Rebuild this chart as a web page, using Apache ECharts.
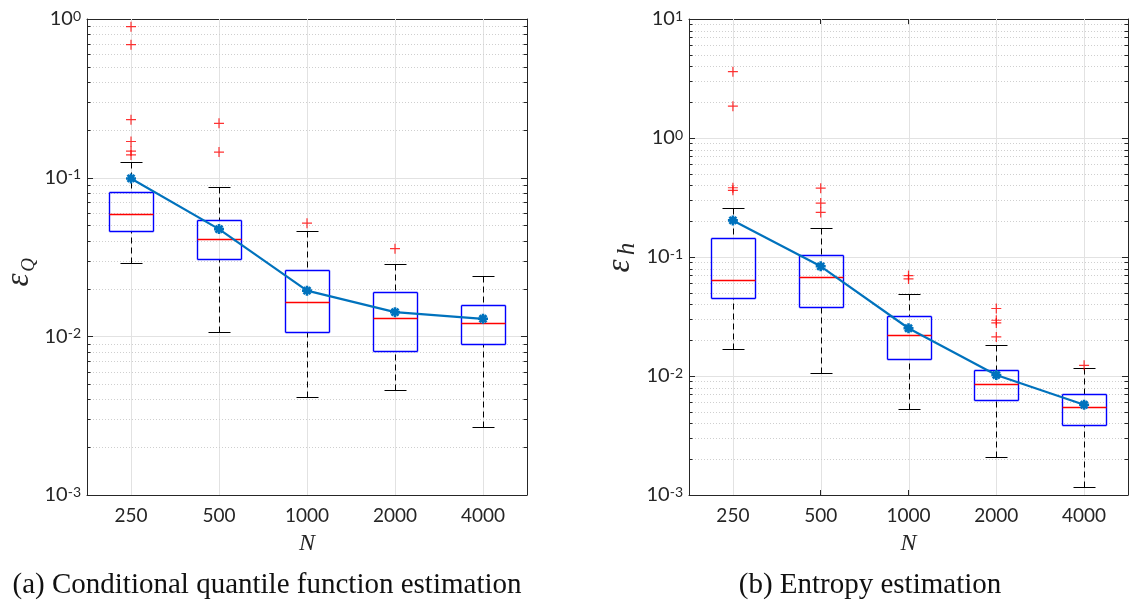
<!DOCTYPE html>
<html><head><meta charset="utf-8">
<script src="https://cdn.jsdelivr.net/npm/echarts@6/dist/echarts.min.js"></script>
<style>html,body{margin:0;padding:0;background:#fff}#c{width:1129px;height:601px}</style>
</head><body><div id="c"></div>
<script>
const categories = ['250', '500', '1000', '2000', '4000'];

// (a) Conditional quantile function estimation
const lowQ  = [0.0291, 0.0107, 0.00412, 0.00456, 0.00269];
const q1Q   = [0.0460, 0.0309, 0.0107, 0.00806, 0.0089];
const medQ  = [0.0593, 0.0408, 0.0164, 0.0131, 0.0121];
const q3Q   = [0.0810, 0.0540, 0.0263, 0.0190, 0.0157];
const highQ = [0.125, 0.0868, 0.0460, 0.0284, 0.0240];
const meanQ = [0.0989, 0.0474, 0.0194, 0.0142, 0.0129];
const outQ  = [[0.894, 0.689, 0.232, 0.169, 0.147, 0.139], [0.220, 0.145], [0.0517], [0.0357], []];

// (b) Entropy estimation
const lowH  = [0.0168, 0.0106, 0.00527, 0.00209, 0.00117];
const q1H   = [0.0456, 0.0381, 0.0139, 0.00624, 0.0039];
const medH  = [0.0638, 0.0685, 0.0222, 0.0086, 0.00548];
const q3H   = [0.1455, 0.1033, 0.0322, 0.0113, 0.0071];
const highH = [0.2576, 0.1765, 0.0489, 0.0181, 0.0116];
const meanH = [0.203, 0.0835, 0.0252, 0.0102, 0.00573];
const outH  = [[3.61, 1.85, 0.382, 0.363], [0.379, 0.284, 0.237], [0.0698, 0.0654], [0.0369, 0.0294, 0.0279, 0.0213], [0.0123]];

// axis ranges
const yMinQ = 0.001, yMaxQ = 1;
const yMinH = 0.001, yMaxH = 10;
const captions = ['(a) Conditional quantile function estimation', '(b) Entropy estimation'];

const AX = '#262626';
const px = v => Math.round(v) + 0.5;

function decadeLines(min, max) {
  const data = [];
  categories.forEach((c, i) => data.push([i, min, 0]));
  const e0 = Math.round(Math.log10(min)), e1 = Math.round(Math.log10(max));
  for (let e = e0; e < e1; e++) {
    if (e > e0) data.push([0, Math.pow(10, e), 1]);
    for (let m = 2; m <= 9; m++) data.push([0, m * Math.pow(10, e), 2]);
  }
  return data;
}

function ln(x1, y1, x2, y2, stroke, z2, dash, w) {
  return { type: 'line', z2, shape: { x1, y1, x2, y2 }, style: { stroke, lineWidth: w || 1, lineDash: dash || null, fill: null } };
}

function gridSeries(ai, min, max) {
  return {
    type: 'custom', xAxisIndex: ai, yAxisIndex: ai, silent: true, z: 1,
    data: decadeLines(min, max),
    encode: { x: 0, y: 1 },
    renderItem(params, api) {
      const cs = params.coordSys;
      const kind = api.value(2);
      const L = cs.x, R = cs.x + cs.width;
      if (kind === 0) {
        const x = px(api.coord([api.value(0), api.value(1)])[0]);
        return ln(x, cs.y, x, cs.y + cs.height, '#e2e2e2', 1);
      }
      const y = px(api.coord([0, api.value(1)])[1]);
      if (kind === 1) {
        return { type: 'group', children: [
          ln(L, y, R, y, '#e2e2e2', 1), ln(L, y, L + 6, y, AX, 2), ln(R - 6, y, R, y, AX, 3)
        ]};
      }
      return { type: 'group', children: [
        ln(L, y, R, y, '#cfcfcf', 1, [1, 2]), ln(L, y, L + 3.5, y, AX, 2), ln(R - 3.5, y, R, y, AX, 3)
      ]};
    }
  };
}

function boxSeries(ai, low, q1, med, q3, high) {
  return {
    type: 'custom', xAxisIndex: ai, yAxisIndex: ai, silent: true, z: 3,
    data: categories.map((c, i) => [i, low[i], q1[i], med[i], q3[i], high[i]]),
    encode: { x: 0, y: [1, 2, 3, 4, 5] },
    renderItem(params, api) {
      const cs = params.coordSys;
      const band = cs.width / categories.length;
      const i = api.value(0);
      const x = px(api.coord([i, api.value(3)])[0]);
      const yv = k => px(api.coord([i, api.value(k)])[1]);
      const yLow = yv(1), yQ1 = yv(2), yMed = yv(3), yQ3 = yv(4), yHigh = yv(5);
      const hw = Math.round(band * 0.25), cw = Math.round(band * 0.125);
      const B = '#0000ff', W = 1.4;
      return { type: 'group', children: [
        ln(x, yHigh, x, yQ3, '#000', 1, [6, 4]),
        ln(x, yLow, x, yQ1, '#000', 2, [6, 4]),
        ln(x - cw, yHigh, x + cw, yHigh, '#000', 3),
        ln(x - cw, yLow, x + cw, yLow, '#000', 4),
        ln(x - hw, yQ3, x + hw, yQ3, B, 5, null, W),
        ln(x - hw, yQ1, x + hw, yQ1, B, 6, null, W),
        ln(x - hw, yQ3, x - hw, yQ1, B, 7, null, W),
        ln(x + hw, yQ3, x + hw, yQ1, B, 8, null, W),
        ln(x - hw, yMed, x + hw, yMed, '#ff0000', 9, null, 1.4)
      ]};
    }
  };
}

function outlierSeries(ai, outs) {
  const data = [];
  outs.forEach((arr, i) => arr.forEach(v => data.push([i, v])));
  return {
    type: 'scatter', xAxisIndex: ai, yAxisIndex: ai, silent: true, z: 4,
    data,
    symbol: 'path://M0,5L10,5M5,0L5,10', symbolSize: 10,
    itemStyle: { color: 'rgba(0,0,0,0)', borderColor: '#ff0000', borderWidth: 1.2 }
  };
}

function meanSeries(ai, mean) {
  return {
    type: 'line', xAxisIndex: ai, yAxisIndex: ai, silent: true, z: 5,
    data: mean,
    lineStyle: { color: '#0072BD', width: 2.2 },
    symbol: 'path://M0,5L10,5M5,0L5,10M1.5,1.5L8.5,8.5M1.5,8.5L8.5,1.5', symbolSize: 10,
    itemStyle: { color: '#0072BD', borderColor: '#0072BD', borderWidth: 2.6 }
  };
}

function xAx(gridIndex, position, showLabel) {
  return {
    type: 'category', gridIndex, position, data: categories, boundaryGap: true,
    axisLine: { show: true, onZero: false, lineStyle: { color: AX, width: 1 } },
    axisTick: { show: true, inside: true, alignWithLabel: true, length: 5, lineStyle: { color: AX } },
    axisLabel: { show: showLabel, interval: 0, margin: 11, fontFamily: 'Lato', fontSize: 19, color: AX },
    splitLine: { show: false },
    name: showLabel ? 'N' : '', nameLocation: 'middle', nameGap: 37,
    nameTextStyle: { fontFamily: 'Liberation Serif', fontStyle: 'italic', fontSize: 24, color: AX }
  };
}

function yAx(gridIndex, position, showLabel, min, max) {
  return {
    type: 'log', logBase: 10, gridIndex, position, min, max,
    axisLine: { show: true, onZero: false, lineStyle: { color: AX, width: 1 } },
    axisTick: { show: false },
    axisLabel: {
      show: showLabel, margin: 6,
      formatter: v => '{b|10}{s|' + Math.round(Math.log10(v)) + '}',
      rich: {
        b: { fontFamily: 'Lato', fontSize: 20, color: AX, lineHeight: 20 },
        s: { fontFamily: 'Lato', fontSize: 14, color: AX, verticalAlign: 'top' }
      }
    },
    splitLine: { show: false }
  };
}

const chart = echarts.init(document.getElementById('c'));
chart.setOption({
  animation: false,
  backgroundColor: '#fff',
  grid: [
    { left: 87, top: 19, width: 440, height: 476 },
    { left: 689, top: 19, width: 439, height: 476 }
  ],
  xAxis: [xAx(0, 'bottom', true), xAx(0, 'top', false), xAx(1, 'bottom', true), xAx(1, 'top', false)],
  yAxis: [yAx(0, 'left', true, yMinQ, yMaxQ), yAx(0, 'right', false, yMinQ, yMaxQ),
          yAx(1, 'left', true, yMinH, yMaxH), yAx(1, 'right', false, yMinH, yMaxH)],
  series: [
    gridSeries(0, yMinQ, yMaxQ), boxSeries(0, lowQ, q1Q, medQ, q3Q, highQ), outlierSeries(0, outQ), meanSeries(0, meanQ),
    gridSeries(2, yMinH, yMaxH), boxSeries(2, lowH, q1H, medH, q3H, highH), outlierSeries(2, outH), meanSeries(2, meanH)
  ],
  graphic: [
    { type: 'text', x: 19, y: 280, rotation: Math.PI / 2, style: { text: 'ε', fontFamily: 'Liberation Serif', fontStyle: 'italic', fontSize: 33, fill: AX, align: 'center', verticalAlign: 'middle' } },
    { type: 'text', x: 29, y: 265, rotation: Math.PI / 2, style: { text: 'Q', fontFamily: 'Liberation Serif', fontStyle: 'italic', fontSize: 19, fill: AX, align: 'center', verticalAlign: 'middle' } },
    { type: 'text', x: 620, y: 266, rotation: Math.PI / 2, style: { text: 'ε', fontFamily: 'Liberation Serif', fontStyle: 'italic', fontSize: 33, fill: AX, align: 'center', verticalAlign: 'middle' } },
    { type: 'text', x: 627, y: 249, rotation: Math.PI / 2, style: { text: 'h', fontFamily: 'Liberation Serif', fontStyle: 'italic', fontSize: 25, fill: AX, align: 'center', verticalAlign: 'middle' } },
    { type: 'text', x: 267, y: 585, style: { text: captions[0], fontFamily: 'Liberation Serif', fontSize: 29, fill: '#111', align: 'center', verticalAlign: 'middle' } },
    { type: 'text', x: 870, y: 585, style: { text: captions[1], fontFamily: 'Liberation Serif', fontSize: 29, fill: '#111', align: 'center', verticalAlign: 'middle' } }
  ]
});
</script></body></html>
